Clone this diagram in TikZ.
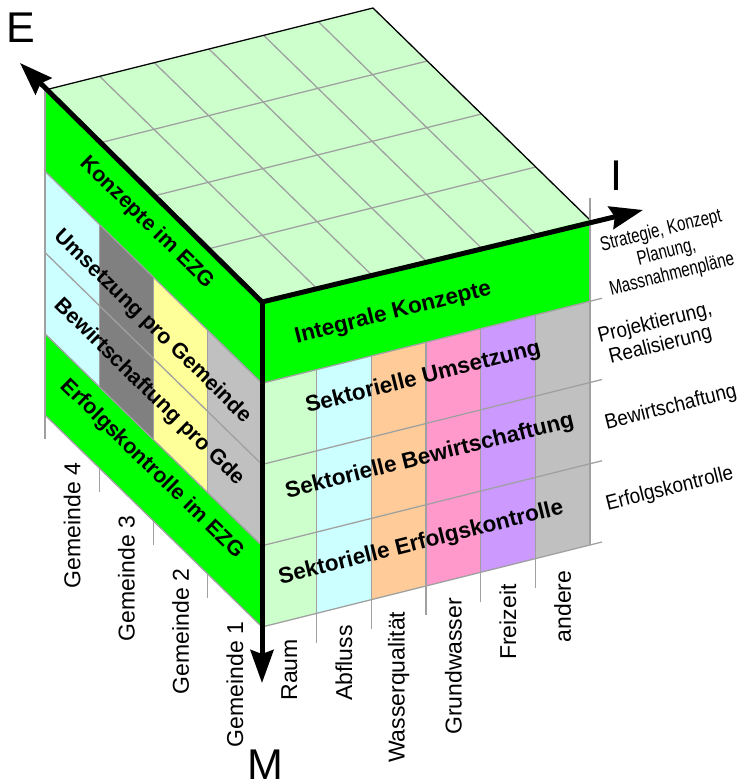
\documentclass[tikz,border=0pt]{standalone}
\usepackage{fontspec}
\setmainfont{Liberation Sans}
\usepackage{tikz}
\usetikzlibrary{arrows.meta}

\definecolor{hellgruen}{HTML}{CCFFCC}
\definecolor{gruen}{HTML}{00FF00}
\definecolor{hellblau}{HTML}{CCFFFF}
\definecolor{orange}{HTML}{FFCC99}
\definecolor{rosa}{HTML}{FF99CC}
\definecolor{lila}{HTML}{CC99FF}
\definecolor{hellgrau}{HTML}{C0C0C0}
\definecolor{dunkelgrau}{HTML}{808080}
\definecolor{gelb}{HTML}{FFFF99}
\definecolor{linie}{HTML}{A0A0A0}

\begin{document}
\begin{tikzpicture}[x=1pt,y=-1pt,
  gitter/.style={draw=linie,line width=1.3pt},
  achse/.style={line width=5pt,-{Stealth[length=33pt,width=23pt,inset=4pt]}},
  rechtsfeld/.style={inner sep=0pt,rotate=14,font=\bfseries\fontsize{22.5}{24}\selectfont},
  linksfeld/.style={inner sep=0pt,rotate=-44.3,font=\bfseries\fontsize{21.5}{24}\selectfont},
  stufe/.style={inner sep=0pt,rotate=14,xscale=0.9,align=center,font=\fontsize{21}{23}\selectfont},
  spalte/.style={inner sep=0pt,rotate=90,anchor=east,font=\fontsize{23}{24}\selectfont},
  achsname/.style={inner sep=0pt,font=\fontsize{43}{44}\selectfont}]
\useasboundingbox (0,0) rectangle (744,784);
\coordinate (C) at (262,302);
\coordinate (Etip) at (20,63);
\coordinate (Itip) at (643,210);
\coordinate (Mtip) at (262,683);

% Deckflaeche
\begin{scope}[shift={(C)},x={(54.667pt,13.667pt)},y={(-54.25pt,53pt)}]
\fill[hellgruen] (0,0) -- (6,0) -- (6,4) -- (0,4) -- cycle;
\foreach \i in {1,...,5} \draw[gitter] (\i,0) -- (\i,4);
\foreach \k in {1,2,3} \draw[gitter] (0,\k) -- (6,\k);
\draw[line width=1.3pt] (0,4) -- (6,4) -- (6,0);
\end{scope}

% rechte Seite
\begin{scope}[shift={(C)},x={(54.667pt,13.667pt)},y={(0pt,-81.25pt)}]
\fill[gruen] (0,0) -- (6,0) -- (6,1) -- (0,1) -- cycle;
\foreach \c [count=\i from 0] in {hellgruen,hellblau,orange,rosa,lila,hellgrau}
  \fill[\c] (\i,1) -- (\i+1,1) -- (\i+1,4) -- (\i,4) -- cycle;
\foreach \i in {1,...,5} \draw[gitter] (\i,1) -- (\i,4.36);
\foreach \k in {1,...,4} \draw[gitter] (0,\k) -- (6.22,\k);
\draw[gitter] (6,-0.27) -- (6,4);
\node[rechtsfeld] (integral) at (2.4,0.54) {Integrale Konzepte};
\node[rechtsfeld] (sumsetz) at (2.95,1.43) {Sektorielle Umsetzung};
\node[rechtsfeld] (sbewirt) at (3.07,2.42) {Sektorielle Bewirtschaftung};
\node[rechtsfeld] (serfolg) at (2.91,3.46) {Sektorielle Erfolgskontrolle};
\node[stufe,xscale=0.84,font=\fontsize{20}{22.5}\selectfont] (strategie) at (7.4,0.64) {Strategie, Konzept\\Planung,\\Massnahmenpläne};
\node[stufe] (projekt) at (7.24,1.62) {Projektierung,\\Realisierung};
\node[stufe] (bewirt) at (7.48,2.56) {Bewirtschaftung};
\node[stufe] (erfolg) at (7.46,3.56) {Erfolgskontrolle};
\foreach \t [count=\i from 0] in {Raum,Abfluss,Wasserqualität,Grundwasser,Freizeit,andere}
  \node[spalte] (sektor\i) at (\i+0.5,4.23) {\t};
\end{scope}

% linke Seite
\begin{scope}[shift={(C)},x={(-54.25pt,53pt)},y={(0pt,-81.25pt)}]
\fill[gruen] (0,0) -- (4,0) -- (4,1) -- (0,1) -- cycle;
\fill[gruen] (0,3) -- (4,3) -- (4,4) -- (0,4) -- cycle;
\foreach \c [count=\i from 0] in {hellgrau,gelb,dunkelgrau,hellblau}
  \fill[\c] (\i,1) -- (\i+1,1) -- (\i+1,3) -- (\i,3) -- cycle;
\foreach \i in {1,2,3} \draw[gitter] (\i,1) -- (\i,3);
\foreach \i in {1,...,4} \draw[gitter] (\i,4) -- (\i,4.3);
\foreach \k in {1,...,4} \draw[gitter] (0,\k) -- (4,\k);
\draw[gitter] (4,0) -- (4,4);
\node[linksfeld] (kezg) at (2.12,0.41) {Konzepte im EZG};
\node[linksfeld] (ugde) at (2.02,1.62) {Umsetzung pro Gemeinde};
\node[linksfeld] (bgde) at (2.08,2.47) {Bewirtschaftung pro Gde};
\node[linksfeld] (eezg) at (2.03,3.38) {Erfolgskontrolle im EZG};
\foreach \i in {1,...,4}
  \node[spalte] (gemeinde\i) at (\i-0.5,4.26) {Gemeinde \i};
\end{scope}

\draw[achse] (C) -- (Etip);
\draw[achse] (C) -- (Itip);
\draw[achse] (C) -- (Mtip);
\node[achsname] (E) at (21,28) {E};
\node[achsname] (I) at (616,176) {I};
\node[achsname] (M) at (265,765) {M};
\end{tikzpicture}
\end{document}
